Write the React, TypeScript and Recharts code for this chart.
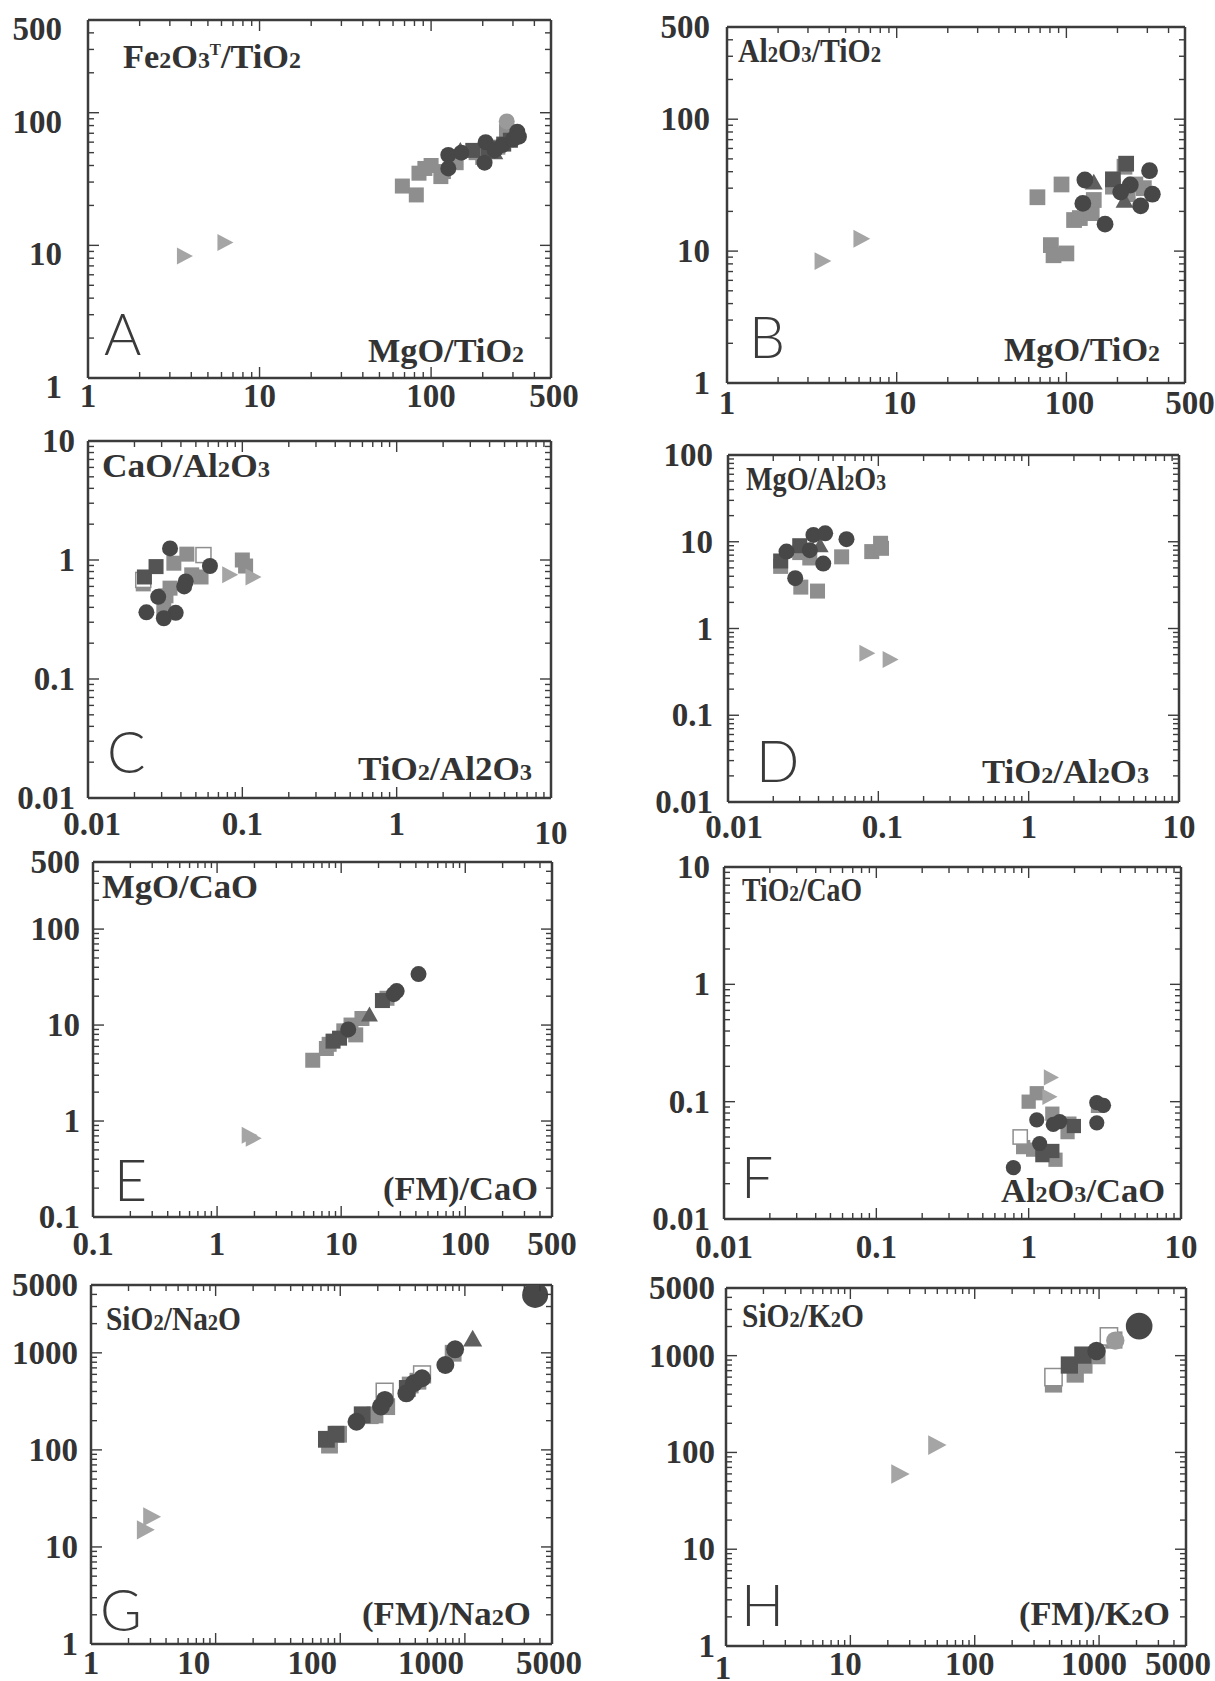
import React from 'react';
import { ScatterChart, Scatter, XAxis, YAxis } from 'recharts';

type Pt = [number, number];
type Kind = 'graySq' | 'hollowSq' | 'darkSq' | 'darkTri' | 'lightCir' | 'darkCir' | 'bigCir' | 'lightTri';

// ---------------- Data ----------------
// Panel A: MgO/TiO2 vs Fe2O3T/TiO2
const A_graySq: Pt[] = [[68, 28], [82, 24], [85, 35], [92, 38], [100, 40], [114, 33], [118, 36], [140, 42], [183, 50], [200, 46], [245, 55], [275, 72]];
const A_darkSq: Pt[] = [[175, 52], [215, 54], [265, 58], [290, 62]];
const A_darkCir: Pt[] = [[126, 48], [126, 38], [150, 50], [205, 42], [208, 60], [235, 52], [260, 57], [300, 63], [318, 72], [325, 66]];
const A_darkTri: Pt[] = [[148, 52], [235, 50]];
const A_lightCir: Pt[] = [[276, 86]];
const A_lightTri: Pt[] = [[3.6, 8.3], [6.2, 10.5]];

// Panel B: MgO/TiO2 vs Al2O3/TiO2
const B_graySq: Pt[] = [[67.5, 25.6], [93.6, 32], [81, 11.1], [84, 9.3], [100, 9.6], [111, 17.2], [120, 17.8], [141, 19.4], [145, 24.4], [188, 30.8], [220, 43.6], [230, 27], [286, 30], [255, 32]];
const B_darkSq: Pt[] = [[188, 35], [225, 46]];
const B_darkCir: Pt[] = [[128.5, 34.6], [125, 23], [169, 16], [238, 31.7], [274, 22], [309, 40.7], [321, 27], [209, 28]];
const B_darkTri: Pt[] = [[145, 33], [220, 24]];
const B_lightTri: Pt[] = [[3.6, 8.4], [6.1, 12.4]];

// Panel C: TiO2/Al2O3 vs CaO/Al2O3
const C_graySq: Pt[] = [[0.0228, 0.63], [0.034, 0.58], [0.031, 0.38], [0.0437, 1.12], [0.036, 0.94], [0.054, 0.72], [0.1, 1.0], [0.105, 0.89], [0.032, 0.5], [0.047, 0.75]];
const C_darkSq: Pt[] = [[0.0232, 0.72], [0.0276, 0.88]];
const C_hollowSq: Pt[] = [[0.056, 1.1], [0.0228, 0.68]];
const C_darkCir: Pt[] = [[0.034, 1.25], [0.0617, 0.89], [0.0239, 0.363], [0.037, 0.36], [0.031, 0.324], [0.0285, 0.49], [0.043, 0.66], [0.042, 0.6]];
const C_lightTri: Pt[] = [[0.0816, 0.75], [0.1155, 0.72]];

// Panel D: TiO2/Al2O3 vs MgO/Al2O3
const D_graySq: Pt[] = [[0.0224, 5.2], [0.0305, 3.0], [0.0394, 2.7], [0.035, 6.5], [0.057, 6.7], [0.0904, 7.7], [0.1035, 9.6], [0.105, 8.4], [0.03, 7.5]];
const D_darkSq: Pt[] = [[0.0224, 6], [0.03, 9]];
const D_darkCir: Pt[] = [[0.0245, 7.7], [0.037, 12], [0.0443, 12.5], [0.0614, 10.7], [0.043, 5.6], [0.028, 3.8], [0.035, 8]];
const D_darkTri: Pt[] = [[0.041, 9]];
const D_lightTri: Pt[] = [[0.0826, 0.518], [0.118, 0.44]];

// Panel E: (FM)/CaO vs MgO/CaO
const E_graySq: Pt[] = [[5.9, 4.3], [7.6, 5.7], [8.0, 6.3], [13.1, 7.9], [14.7, 11.7], [23.4, 19], [10.5, 8.7], [12, 10]];
const E_darkSq: Pt[] = [[21.5, 18], [9.7, 7.3], [8.6, 6.8]];
const E_darkCir: Pt[] = [[11.4, 9.0], [28, 22.6], [26.5, 21], [42, 34]];
const E_darkTri: Pt[] = [[16.9, 12.7]];
const E_lightTri: Pt[] = [[1.92, 0.66], [1.78, 0.71]];

// Panel F: Al2O3/CaO vs TiO2/CaO
const F_graySq: Pt[] = [[1.0, 0.1], [1.13, 0.118], [0.92, 0.041], [1.07, 0.039], [1.43, 0.079], [1.85, 0.065], [1.5, 0.032], [2.85, 0.092], [1.8, 0.055]];
const F_darkSq: Pt[] = [[1.23, 0.035], [1.98, 0.062], [1.43, 0.038]];
const F_hollowSq: Pt[] = [[0.88, 0.05]];
const F_darkCir: Pt[] = [[0.794, 0.0274], [1.13, 0.07], [1.6, 0.0676], [1.45, 0.064], [2.8, 0.098], [3.1, 0.093], [2.8, 0.066], [1.18, 0.044]];
const F_lightTri: Pt[] = [[1.38, 0.161], [1.35, 0.11]];

// Panel G: (FM)/Na2O vs SiO2/Na2O
const G_graySq: Pt[] = [[82, 112], [97, 145], [190, 229], [174, 225], [236, 279], [364, 466], [420, 510], [805, 990]];
const G_darkSq: Pt[] = [[77.4, 128.6], [92.5, 145], [150, 230], [345, 430]];
const G_hollowSq: Pt[] = [[227, 398], [453, 600]];
const G_darkCir: Pt[] = [[135, 195], [228, 327], [212, 280], [339, 383], [390, 486], [453, 547], [697, 750], [835, 1087]];
const G_bigCir: Pt[] = [[3660, 3950]];
const G_darkTri: Pt[] = [[1155, 1380]];
const G_lightTri: Pt[] = [[2.67, 15], [3.0, 20.5]];

// Panel H: (FM)/K2O vs SiO2/K2O
const H_graySq: Pt[] = [[430, 510], [643, 646], [755, 800], [960, 1000], [1315, 1450]];
const H_hollowSq: Pt[] = [[430, 600], [1200, 1580]];
const H_darkSq: Pt[] = [[577, 800], [741, 1013]];
const H_darkCir: Pt[] = [[953, 1115]];
const H_bigCir: Pt[] = [[2100, 2020]];
const H_lightCir: Pt[] = [[1350, 1430]];
const H_lightTri: Pt[] = [[24.5, 60], [48.5, 119]];

// Tick labels (major ticks)
const TICKS_1_500 = [1, 10, 100, 500];
const TICKS_001_10 = [0.01, 0.1, 1, 10];
const TICKS_001_100 = [0.01, 0.1, 1, 10, 100];
const TICKS_01_500 = [0.1, 1, 10, 100, 500];
const TICKS_1_5000 = [1, 10, 100, 1000, 5000];

// ---------------- Styling ----------------
const FRAME = '#3c3c3c';
const TEXT = '#333333';
const SERIF = "'Liberation Serif', 'Times New Roman', serif";
const LETTER_FONT = "Lato, 'DejaVu Sans', sans-serif";

const KIND_ORDER: Kind[] = ['graySq', 'hollowSq', 'darkSq', 'darkTri', 'lightCir', 'darkCir', 'bigCir', 'lightTri'];

function Marker({ kind, cx, cy, s }: { kind: Kind; cx: number; cy: number; s: number }) {
  if (cx == null || cy == null || isNaN(cx) || isNaN(cy)) return null;
  const h = 7.5 * s;
  const r = 8 * s;
  switch (kind) {
    case 'graySq':
      return <rect x={cx - h} y={cy - h} width={2 * h} height={2 * h} fill="#8e8e8e" />;
    case 'darkSq':
      return <rect x={cx - h} y={cy - h} width={2 * h} height={2 * h} fill="#545454" />;
    case 'hollowSq':
      return <rect x={cx - h} y={cy - h} width={2 * h} height={2 * h} fill="#ffffff" stroke="#8e8e8e" strokeWidth={1.5} />;
    case 'darkTri':
      return <polygon points={`${cx},${cy - 8.5 * s} ${cx - 8.5 * s},${cy + 6.5 * s} ${cx + 8.5 * s},${cy + 6.5 * s}`} fill="#5f5f5f" />;
    case 'lightTri':
      return <polygon points={`${cx - 6.5 * s},${cy - 8.5 * s} ${cx - 6.5 * s},${cy + 8.5 * s} ${cx + 9.5 * s},${cy}`} fill="#a5a5a5" />;
    case 'lightCir':
      return <circle cx={cx} cy={cy} r={r} fill="#9a9a9a" />;
    case 'bigCir':
      return <circle cx={cx} cy={cy} r={r * 1.45} fill="#474747" />;
    default:
      return <circle cx={cx} cy={cy} r={r} fill="#474747" />;
  }
}

interface Box { l: number; t: number; r: number; b: number }
interface Panel {
  key: string;
  box: Box;
  xDomain: [number, number];
  yDomain: [number, number];
  xMajor: number[];
  yMajor: number[];
  series: { kind: Kind; pts: Pt[] }[];
  yGap: number;
  yDy: number;
  xBase: number;
  xDy?: Record<string, number>;
  xDx?: Record<string, number>;
  scale: number;
}

const PANELS: Panel[] = [
  {
    key: 'A', box: { l: 88, t: 20, r: 551, b: 378 }, xDomain: [1, 500], yDomain: [1, 500],
    xMajor: TICKS_1_500, yMajor: TICKS_1_500, yGap: 26, yDy: 9, xBase: 29, xDx: { '500': 3 }, scale: 1,
    series: [
      { kind: 'graySq', pts: A_graySq }, { kind: 'darkSq', pts: A_darkSq }, { kind: 'darkTri', pts: A_darkTri },
      { kind: 'lightCir', pts: A_lightCir }, { kind: 'darkCir', pts: A_darkCir }, { kind: 'lightTri', pts: A_lightTri },
    ],
  },
  {
    key: 'B', box: { l: 727, t: 27, r: 1185, b: 383 }, xDomain: [1, 500], yDomain: [1, 500],
    xMajor: TICKS_1_500, yMajor: TICKS_1_500, yGap: 17, yDy: 0, xBase: 31, xDx: { '10': 3, '100': 3, '500': 5 }, scale: 1.05,
    series: [
      { kind: 'graySq', pts: B_graySq }, { kind: 'darkSq', pts: B_darkSq }, { kind: 'darkTri', pts: B_darkTri },
      { kind: 'darkCir', pts: B_darkCir }, { kind: 'lightTri', pts: B_lightTri },
    ],
  },
  {
    key: 'C', box: { l: 88, t: 441, r: 551, b: 798 }, xDomain: [0.01, 10], yDomain: [0.01, 10],
    xMajor: TICKS_001_10, yMajor: TICKS_001_10, yGap: 13, yDy: 0, xBase: 37, xDy: { '10': 9 }, xDx: { '0.01': 4 }, scale: 1,
    series: [
      { kind: 'graySq', pts: C_graySq }, { kind: 'hollowSq', pts: C_hollowSq }, { kind: 'darkSq', pts: C_darkSq },
      { kind: 'darkCir', pts: C_darkCir }, { kind: 'lightTri', pts: C_lightTri },
    ],
  },
  {
    key: 'D', box: { l: 728, t: 455, r: 1179, b: 802 }, xDomain: [0.01, 10], yDomain: [0.01, 100],
    xMajor: TICKS_001_10, yMajor: TICKS_001_100, yGap: 15, yDy: 0, xBase: 36, xDx: { '0.01': 6, '0.1': 4 }, scale: 1,
    series: [
      { kind: 'graySq', pts: D_graySq }, { kind: 'darkSq', pts: D_darkSq }, { kind: 'darkTri', pts: D_darkTri },
      { kind: 'darkCir', pts: D_darkCir }, { kind: 'lightTri', pts: D_lightTri },
    ],
  },
  {
    key: 'E', box: { l: 93, t: 862, r: 552, b: 1217 }, xDomain: [0.1, 500], yDomain: [0.1, 500],
    xMajor: TICKS_01_500, yMajor: TICKS_01_500, yGap: 13, yDy: 0, xBase: 38, scale: 1,
    series: [
      { kind: 'graySq', pts: E_graySq }, { kind: 'darkSq', pts: E_darkSq }, { kind: 'darkTri', pts: E_darkTri },
      { kind: 'darkCir', pts: E_darkCir }, { kind: 'lightTri', pts: E_lightTri },
    ],
  },
  {
    key: 'F', box: { l: 724, t: 867, r: 1181, b: 1219 }, xDomain: [0.01, 10], yDomain: [0.01, 10],
    xMajor: TICKS_001_10, yMajor: TICKS_001_10, yGap: 14, yDy: 0, xBase: 39, scale: 0.95,
    series: [
      { kind: 'graySq', pts: F_graySq }, { kind: 'hollowSq', pts: F_hollowSq }, { kind: 'darkSq', pts: F_darkSq },
      { kind: 'darkCir', pts: F_darkCir }, { kind: 'lightTri', pts: F_lightTri },
    ],
  },
  {
    key: 'G', box: { l: 91, t: 1285, r: 552, b: 1644 }, xDomain: [1, 5000], yDomain: [1, 5000],
    xMajor: TICKS_1_5000, yMajor: TICKS_1_5000, yGap: 13, yDy: 0, xBase: 30,
    xDx: { '10': -22, '100': -28, '1000': -34, '5000': -3 }, scale: 1.12,
    series: [
      { kind: 'graySq', pts: G_graySq }, { kind: 'hollowSq', pts: G_hollowSq }, { kind: 'darkSq', pts: G_darkSq },
      { kind: 'darkTri', pts: G_darkTri }, { kind: 'darkCir', pts: G_darkCir }, { kind: 'bigCir', pts: G_bigCir },
      { kind: 'lightTri', pts: G_lightTri },
    ],
  },
  {
    key: 'H', box: { l: 726, t: 1288, r: 1186, b: 1646 }, xDomain: [1, 5000], yDomain: [1, 5000],
    xMajor: TICKS_1_5000, yMajor: TICKS_1_5000, yGap: 11, yDy: 0, xBase: 29, xDy: { '1': 4 },
    xDx: { '1': -3, '10': -5, '100': -5, '1000': -5, '5000': -8 }, scale: 1.15,
    series: [
      { kind: 'graySq', pts: H_graySq }, { kind: 'hollowSq', pts: H_hollowSq }, { kind: 'darkSq', pts: H_darkSq },
      { kind: 'lightCir', pts: H_lightCir }, { kind: 'darkCir', pts: H_darkCir }, { kind: 'bigCir', pts: H_bigCir },
      { kind: 'lightTri', pts: H_lightTri },
    ],
  },
];

// Titles: parts [text, mode] where mode n=normal, s=small (subscript digit), p=superscript
type Part = [string, 'n' | 's' | 'p'];
interface Title { parts: Part[]; x: number; y: number; anchor: 'start' | 'end'; len: number }

const TITLES: Title[] = [
  { parts: [['Fe', 'n'], ['2', 's'], ['O', 'n'], ['3', 's'], ['T', 'p'], ['/TiO', 'n'], ['2', 's']], x: 123, y: 68, anchor: 'start', len: 178 },
  { parts: [['MgO/TiO', 'n'], ['2', 's']], x: 524, y: 362, anchor: 'end', len: 156 },
  { parts: [['Al', 'n'], ['2', 's'], ['O', 'n'], ['3', 's'], ['/TiO', 'n'], ['2', 's']], x: 738, y: 62, anchor: 'start', len: 143 },
  { parts: [['MgO/TiO', 'n'], ['2', 's']], x: 1160, y: 361, anchor: 'end', len: 156 },
  { parts: [['CaO/Al', 'n'], ['2', 's'], ['O', 'n'], ['3', 's']], x: 102, y: 477, anchor: 'start', len: 168 },
  { parts: [['TiO', 'n'], ['2', 's'], ['/Al2O', 'n'], ['3', 's']], x: 532, y: 780, anchor: 'end', len: 174 },
  { parts: [['MgO/Al', 'n'], ['2', 's'], ['O', 'n'], ['3', 's']], x: 746, y: 490, anchor: 'start', len: 140 },
  { parts: [['TiO', 'n'], ['2', 's'], ['/Al', 'n'], ['2', 's'], ['O', 'n'], ['3', 's']], x: 1149, y: 783, anchor: 'end', len: 167 },
  { parts: [['MgO/CaO', 'n']], x: 102, y: 898, anchor: 'start', len: 156 },
  { parts: [['(FM)/CaO', 'n']], x: 538, y: 1200, anchor: 'end', len: 155 },
  { parts: [['TiO', 'n'], ['2', 's'], ['/CaO', 'n']], x: 742, y: 901, anchor: 'start', len: 120 },
  { parts: [['Al', 'n'], ['2', 's'], ['O', 'n'], ['3', 's'], ['/CaO', 'n']], x: 1165, y: 1202, anchor: 'end', len: 164 },
  { parts: [['SiO', 'n'], ['2', 's'], ['/Na', 'n'], ['2', 's'], ['O', 'n']], x: 106, y: 1330, anchor: 'start', len: 135 },
  { parts: [['(FM)/Na', 'n'], ['2', 's'], ['O', 'n']], x: 531, y: 1625, anchor: 'end', len: 169 },
  { parts: [['SiO', 'n'], ['2', 's'], ['/K', 'n'], ['2', 's'], ['O', 'n']], x: 742, y: 1327, anchor: 'start', len: 122 },
  { parts: [['(FM)/K', 'n'], ['2', 's'], ['O', 'n']], x: 1170, y: 1625, anchor: 'end', len: 151 },
];

const LETTERS: { ch: string; x: number; y: number }[] = [
  { ch: 'A', x: 104, y: 355 }, { ch: 'B', x: 749, y: 358 },
  { ch: 'C', x: 107, y: 773 }, { ch: 'D', x: 756, y: 782 },
  { ch: 'E', x: 114, y: 1201 }, { ch: 'F', x: 741, y: 1198 },
  { ch: 'G', x: 100, y: 1631 }, { ch: 'H', x: 741, y: 1626 },
];

// ---------------- Helpers ----------------
function allTicks(dom: [number, number], major: number[]): number[] {
  const out: number[] = [];
  const [min, max] = dom;
  for (let k = Math.floor(Math.log10(min)); k <= Math.ceil(Math.log10(max)); k++) {
    for (let m = 1; m <= 9; m++) {
      const v = Number((m * Math.pow(10, k)).toPrecision(6));
      if (v >= min * 0.9999 && v <= max * 1.0001) out.push(v);
    }
  }
  major.forEach((v) => { if (!out.some((o) => Math.abs(o - v) <= v * 1e-6)) out.push(v); });
  return out.sort((a, b) => a - b);
}

const isMajor = (v: number, major: number[]) => major.some((m) => Math.abs(m - v) <= m * 1e-6);

const PL = 85, PT = 25, PR = 40, PB = 52;
const MAJ = 11, MIN = 6;
const AXIS_STYLE = { stroke: FRAME, strokeWidth: 2.5 };
const LABEL_STYLE = { fontFamily: SERIF, fontWeight: 700, fontSize: 33, fill: TEXT };

function PanelChart({ p }: { p: Panel }) {
  const w = p.box.r - p.box.l + PL + PR;
  const h = p.box.b - p.box.t + PT + PB;
  const xt = allTicks(p.xDomain, p.xMajor);
  const yt = allTicks(p.yDomain, p.yMajor);

  const bottomTick = (props: any) => {
    const { x, y, payload } = props;
    const v = payload.value as number;
    const mj = isMajor(v, p.xMajor);
    const key = String(v);
    const dy = p.xDy && p.xDy[key] ? p.xDy[key] : 0;
    const dx = p.xDx && p.xDx[key] ? p.xDx[key] : 0;
    return (
      <g>
        <line x1={x} y1={y} x2={x} y2={y - (mj ? MAJ : MIN)} stroke={FRAME} strokeWidth={1.4} />
        {mj && <text x={x + dx} y={y + p.xBase + dy} textAnchor="middle" {...LABEL_STYLE}>{key}</text>}
      </g>
    );
  };
  const topTick = (props: any) => {
    const { x, y, payload } = props;
    const mj = isMajor(payload.value, p.xMajor);
    return <line x1={x} y1={y} x2={x} y2={y + (mj ? MAJ : MIN)} stroke={FRAME} strokeWidth={1.4} />;
  };
  const leftTick = (props: any) => {
    const { x, y, payload } = props;
    const v = payload.value as number;
    const mj = isMajor(v, p.yMajor);
    return (
      <g>
        <line x1={x} y1={y} x2={x + (mj ? MAJ : MIN)} y2={y} stroke={FRAME} strokeWidth={1.4} />
        {mj && <text x={x - p.yGap} y={y + p.yDy + 11} textAnchor="end" {...LABEL_STYLE}>{String(v)}</text>}
      </g>
    );
  };
  const rightTick = (props: any) => {
    const { x, y, payload } = props;
    const mj = isMajor(payload.value, p.yMajor);
    return <line x1={x} y1={y} x2={x - (mj ? MAJ : MIN)} y2={y} stroke={FRAME} strokeWidth={1.4} />;
  };

  const ordered = [...p.series].sort((a, b) => KIND_ORDER.indexOf(a.kind) - KIND_ORDER.indexOf(b.kind));

  return (
    <div style={{ position: 'absolute', left: p.box.l - PL, top: p.box.t - PT, width: w, height: h }}>
      <ScatterChart width={w} height={h} margin={{ top: PT - 1, right: PR - 1, bottom: 0, left: 0 }}>
        <XAxis xAxisId="b" orientation="bottom" type="number" dataKey="x" scale="log" domain={p.xDomain}
          allowDataOverflow ticks={xt} interval={0} tickSize={0} tickMargin={0} tickLine={false}
          axisLine={AXIS_STYLE} height={PB} tick={bottomTick} />
        <XAxis xAxisId="t" orientation="top" type="number" dataKey="x" scale="log" domain={p.xDomain}
          allowDataOverflow ticks={xt} interval={0} tickSize={0} tickMargin={0} tickLine={false}
          axisLine={AXIS_STYLE} height={1} tick={topTick} />
        <YAxis yAxisId="l" orientation="left" type="number" dataKey="y" scale="log" domain={p.yDomain}
          allowDataOverflow ticks={yt} interval={0} tickSize={0} tickMargin={0} tickLine={false}
          axisLine={AXIS_STYLE} width={PL} tick={leftTick} />
        <YAxis yAxisId="r" orientation="right" type="number" dataKey="y" scale="log" domain={p.yDomain}
          allowDataOverflow ticks={yt} interval={0} tickSize={0} tickMargin={0} tickLine={false}
          axisLine={AXIS_STYLE} width={1} tick={rightTick} />
        {ordered.map((s, i) => (
          <Scatter key={p.key + i} data={s.pts.map(([x, y]) => ({ x, y }))} xAxisId="b" yAxisId="l"
            isAnimationActive={false}
            shape={(sp: any) => <Marker kind={s.kind} cx={sp.cx} cy={sp.cy} s={p.scale} />} />
        ))}
      </ScatterChart>
    </div>
  );
}

function TitleText({ t }: { t: Title }) {
  let shift = 0;
  const spans = t.parts.map(([txt, mode], i) => {
    let dy = 0;
    let fs = 33;
    if (mode === 'p') { dy = -13 - shift; shift = -13; fs = 16; }
    else { dy = -shift; shift = 0; fs = mode === 's' ? 23 : 33; }
    return <tspan key={i} dy={dy} fontSize={fs}>{txt}</tspan>;
  });
  return (
    <text x={t.x} y={t.y} textAnchor={t.anchor} fontFamily={SERIF} fontWeight={700} fontSize={33} fill={TEXT}
      textLength={t.len} lengthAdjust="spacingAndGlyphs">
      {spans}
    </text>
  );
}

export default function App() {
  return (
    <div style={{ position: 'absolute', left: 0, top: 0, width: 1215, height: 1681, overflow: 'hidden', background: '#fff' }}>
      {PANELS.map((p) => <PanelChart key={p.key} p={p} />)}
      <svg width={1215} height={1681} style={{ position: 'absolute', left: 0, top: 0, pointerEvents: 'none' }}>
        {TITLES.map((t, i) => <TitleText key={i} t={t} />)}
        {LETTERS.map((l) => (
          <text key={l.ch} x={l.x} y={l.y} fontFamily={LETTER_FONT} fontWeight={300} fontSize={57} fill="#3a3a3a">{l.ch}</text>
        ))}
      </svg>
    </div>
  );
}
